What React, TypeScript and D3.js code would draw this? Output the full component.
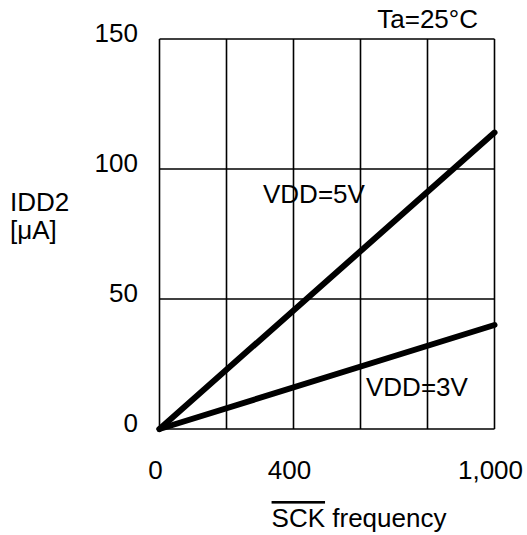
import { line, scaleLinear } from 'd3'

const freq = [0, 1000]
const vdd5 = [0, 114]
const vdd3 = [0, 40]
const xGrid = [0, 200, 400, 600, 800, 1000]
const yTicks = [0, 50, 100, 150]
const xTicks = [0, 400, 1000]
const xTickLabels = ['0', '400', '1,000']

const font = 'Liberation Sans, Arial, sans-serif'

export default function App() {
  const x = scaleLinear().domain([0, 1000]).range([159.5, 494.5])
  const y = scaleLinear().domain([0, 150]).range([429, 39])
  const path = line<[number, number]>()
    .x(d => x(d[0]))
    .y(d => y(d[1]))
  const series = [vdd5, vdd3]

  return (
    <svg
      width={527}
      height={535}
      style={{ position: 'absolute', left: 0, top: 0, background: '#fff' }}
      fontFamily={font}
      fontSize={26}
    >
      {xGrid.map(v => (
        <line key={'gx' + v} x1={x(v)} x2={x(v)} y1={y(0)} y2={y(150)} stroke='#000' strokeWidth={1.6} />
      ))}
      {yTicks.map(v => (
        <line key={'gy' + v} x1={x(0)} x2={x(1000)} y1={y(v)} y2={y(v)} stroke='#000' strokeWidth={1.6} />
      ))}
      {yTicks.map(v => (
        <text key={'ty' + v} x={138} y={y(v) + 3} textAnchor='end'>{v}</text>
      ))}
      {xTicks.map((v, i) => (
        <text key={'tx' + v} x={x(v) - 4} y={479} textAnchor='middle'>{xTickLabels[i]}</text>
      ))}
      {series.map((s, i) => (
        <path
          key={'s' + i}
          d={path(freq.map((f, j) => [f, s[j]]) as [number, number][]) ?? ''}
          fill='none'
          stroke='#000'
          strokeWidth={6}
          strokeLinecap='round'
        />
      ))}
      <text x={263} y={203}>VDD=5V</text>
      <text x={366} y={396}>VDD=3V</text>
      <text x={478} y={28} textAnchor='end'>Ta=25°C</text>
      <text x={10} y={211}>IDD2</text>
      <text x={10} y={239}>[μA]</text>
      <text x={359} y={527} textAnchor='middle'>
        <tspan textDecoration='overline'>SCK</tspan> frequency
      </text>
    </svg>
  )
}
